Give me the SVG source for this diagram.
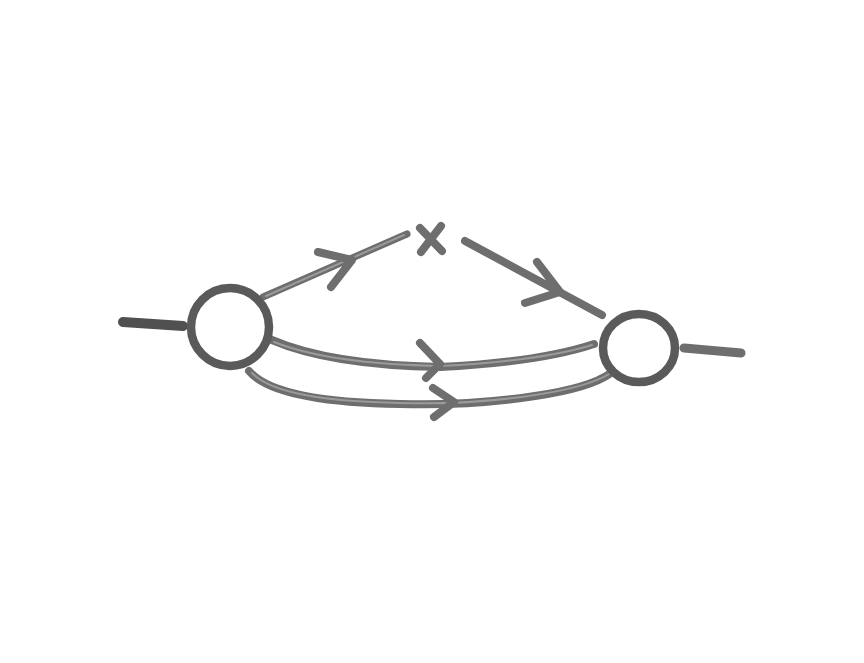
<svg xmlns="http://www.w3.org/2000/svg" width="864" height="663" viewBox="0 0 864 663">
<style>
.ln{fill:none;stroke:#6e6e6e;stroke-width:8;stroke-linecap:round;stroke-linejoin:round}
.hl{fill:none;stroke:#9a9a9a;stroke-width:2;stroke-linecap:round;stroke-linejoin:round}
.ring{fill:none;stroke:#5a5a5a;stroke-width:8.5}
.stub{fill:none;stroke:#505050;stroke-width:10;stroke-linecap:round}
</style>
<rect width="864" height="663" fill="#ffffff"/>
<g id="connectors">
  <path class="stub" d="M123,322 L183,326"/>
  <path class="ln" d="M684,348 L741,353" style="stroke-width:9"/>
  <path class="ln" d="M263,297 L407,234" style="stroke-width:7"/>
  <path class="hl" d="M266,296 L404,235"/>
  <path class="ln" d="M465,241 L602,315"/>
  <path class="ln" d="M272,340 Q330,365 440,367 Q540,362 594,344"/>
  <path class="hl" d="M274,342 Q330,364 440,366 Q540,361 592,345"/>
  <path class="ln" d="M249,371 Q275,402 400,404 Q470,406 535,396 Q590,388 611,373"/>
  <path class="hl" d="M252,373 Q278,401 400,403 Q470,405 535,395 Q588,387 609,374"/>
  <path class="ln" d="M318,252 L352,260 L331,287"/>
  <path class="ln" d="M537,262 L560,292 L525,303"/>
  <path class="ln" d="M420,343 L440,364 L426,378"/>
  <path class="ln" d="M433,388 L454,402 L434,417"/>
</g>
<g id="vertex-left">
  <circle class="ring" cx="230" cy="327" r="39"/>
</g>
<g id="vertex-right">
  <ellipse class="ring" cx="639" cy="348" rx="36" ry="34"/>
</g>
<g id="cross">
  <path class="ln" d="M420,228 L442,251 M441,226 L421,252"/>
</g>
</svg>
